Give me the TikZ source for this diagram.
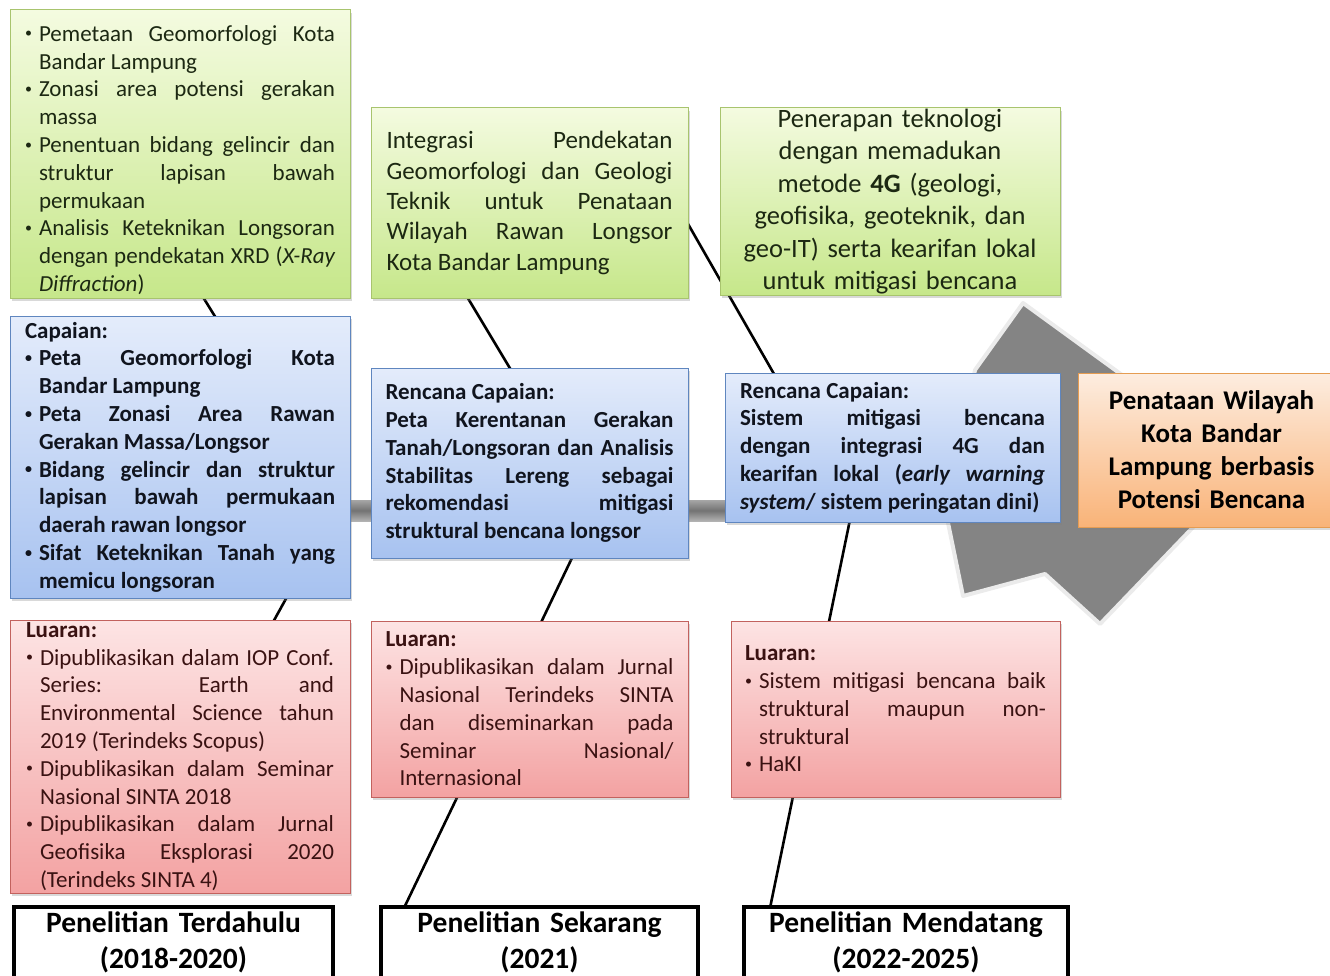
\documentclass[tikz,border=0pt]{standalone}
\usepackage{fontspec}
\setmainfont{Carlito}
\usetikzlibrary{shadows,calc}

\definecolor{greentop}{HTML}{F4FBE0}
\definecolor{greenbot}{HTML}{C6E78A}
\definecolor{greenline}{HTML}{A8C46E}
\definecolor{greentext}{HTML}{1C2812}
\definecolor{bluetop}{HTML}{E4ECFB}
\definecolor{bluebot}{HTML}{A7C2F0}
\definecolor{blueline}{HTML}{5F86BF}
\definecolor{bluetext}{HTML}{10141E}
\definecolor{pinktop}{HTML}{FDE4E4}
\definecolor{pinkbot}{HTML}{F3A2A2}
\definecolor{pinkline}{HTML}{C2625E}
\definecolor{pinktext}{HTML}{3A1212}
\definecolor{orangetop}{HTML}{FDEDE0}
\definecolor{orangebot}{HTML}{F9B378}
\definecolor{orangeline}{HTML}{E59C52}
\definecolor{spinegrey}{HTML}{848484}

\setlength{\parindent}{0pt}
\newcommand{\bitem}[1]{\par\hangindent=14pt\hangafter=1\noindent
  \makebox[14pt][l]{\raisebox{0.3ex}{\fontsize{14}{14}\selectfont\textbullet}}#1}

\begin{document}
\begin{tikzpicture}[x=1pt, y=-1pt,
    % Define styles for the fishbone boxes
    box/.style={draw, line width=1pt, rectangle, inner sep=0pt, align=justify,
      drop shadow={shadow xshift=2pt, shadow yshift=-3pt, opacity=0.3}},
    plan/.style={box, draw=greenline, top color=greentop, bottom color=greenbot, text=greentext,
      font=\fontsize{23}{27.8}\selectfont},
    hasil/.style={box, draw=blueline, top color=bluetop, bottom color=bluebot, text=bluetext,
      font=\bfseries\fontsize{23}{27.8}\selectfont},
    luaran/.style={box, draw=pinkline, top color=pinktop, bottom color=pinkbot, text=pinktext,
      font=\fontsize{23}{27.8}\selectfont},
    tujuan/.style={box, draw=orangeline, top color=orangetop, bottom color=orangebot, align=center,
      font=\bfseries\fontsize{27}{33}\selectfont},
    tahap/.style={draw, line width=4pt, fill=white, inner xsep=0pt, inner ysep=5pt, align=center,
      font=\bfseries\fontsize{29.5}{36}\selectfont},
    rib/.style={line width=2.6pt, black}
  ]
  \useasboundingbox (0,0) rectangle (1330,976);
  \clip (0,0) rectangle (1330,976);

  % --- SPINE & ARROW HEAD ---
  \draw[line width=4pt, black!8, line join=round, fill=spinegrey]
    (1023,303) -- (1250,468) -- (1100,624) -- (1045,574) -- (963,596)
    -- (946,513) -- (975,370) -- cycle;
  \shade[top color=black!35, bottom color=black!30, middle color=black!55]
    (20,500) rectangle (1000,521);

  % --- RIBS ---
  \coordinate (j1) at (335,510);
  \coordinate (t1) at (180,260);
  \coordinate (b1) at (230,700);
  \coordinate (j2) at (595,510);
  \coordinate (t2) at (433,240);
  \coordinate (b2) at (404,908);
  \coordinate (j3) at (852,510);
  \coordinate (t3) at (680,210);
  \coordinate (b3) at (770,908);
  \draw[rib] (t1) -- (j1) -- (b1);
  \draw[rib] (t2) -- (j2) -- (b2);
  \draw[rib] (t3) -- (j3) -- (b3);

  % --- PENELITIAN TERDAHULU ---
  \node[plan, minimum width=340pt, minimum height=288pt, text width=310pt] (plan1) at (180,154) {%
    \bitem{Pemetaan Geomorfologi Kota\linebreak Bandar Lampung}
    \bitem{Zonasi area potensi gerakan\linebreak massa}
    \bitem{Penentuan bidang gelincir dan\linebreak struktur lapisan bawah\linebreak permukaan}
    \bitem{Analisis Keteknikan Longsoran\linebreak dengan pendekatan XRD (\textit{X-Ray\linebreak Diffraction})}\par};
  \node[hasil, minimum width=340pt, minimum height=282pt, text width=310pt] (hasil1) at (180,457) {%
    Capaian:
    \bitem{Peta Geomorfologi Kota\linebreak Bandar Lampung}
    \bitem{Peta Zonasi Area Rawan\linebreak Gerakan Massa/Longsor}
    \bitem{Bidang gelincir dan struktur\linebreak lapisan bawah permukaan\linebreak daerah rawan longsor}
    \bitem{Sifat Keteknikan Tanah yang\linebreak memicu longsoran}\par};
  \node[luaran, minimum width=340pt, minimum height=273pt, text width=308pt] (luaran1) at (180,756.5) {%
    \textbf{Luaran:}
    \bitem{Dipublikasikan dalam IOP Conf.\linebreak Series: Earth and\linebreak Environmental Science tahun\linebreak 2019 (Terindeks Scopus)}
    \bitem{Dipublikasikan dalam Seminar\linebreak Nasional SINTA 2018}
    \bitem{Dipublikasikan dalam Jurnal\linebreak Geofisika Eksplorasi 2020\linebreak (Terindeks SINTA 4)}\par};

  % --- PENELITIAN SEKARANG ---
  \node[plan, minimum width=317pt, minimum height=190pt, text width=286pt,
    font=\fontsize{25}{30.3}\selectfont] (plan2) at (529.5,203) {%
    Integrasi Pendekatan\linebreak Geomorfologi dan Geologi\linebreak Teknik untuk Penataan\linebreak
    Wilayah Rawan Longsor\linebreak Kota Bandar Lampung\par};
  \node[hasil, minimum width=317pt, minimum height=190pt, text width=288pt] (hasil2) at (529.5,463) {%
    Rencana Capaian:\par
    Peta Kerentanan Gerakan\linebreak Tanah/Longsoran dan Analisis\linebreak Stabilitas Lereng sebagai\linebreak
    rekomendasi mitigasi\linebreak struktural bencana longsor\par};
  \node[luaran, minimum width=317pt, minimum height=176pt, text width=288pt] (luaran2) at (529.5,709) {%
    \textbf{Luaran:}
    \bitem{Dipublikasikan dalam Jurnal\linebreak Nasional Terindeks SINTA\linebreak dan diseminarkan pada\linebreak
    Seminar Nasional/\linebreak Internasional}\par};

  % --- PENELITIAN MENDATANG ---
  \node[plan, align=center, minimum width=340pt, minimum height=187pt, text width=330pt,
    font=\fontsize{26.5}{32.4}\selectfont] (plan3) at (890,201.5) {%
    Penerapan teknologi\\ dengan memadukan\\ metode \textbf{4G} (geologi,\\
    geofisika, geoteknik, dan\\ geo-IT) serta kearifan lokal\\ untuk mitigasi bencana};
  \node[hasil, minimum width=335pt, minimum height=149pt, text width=305pt] (hasil3) at (892.5,447.5) {%
    Rencana Capaian:\par
    Sistem mitigasi bencana\linebreak dengan integrasi 4G dan\linebreak
    kearifan lokal (\textit{early warning\linebreak system}/ sistem peringatan dini)\par};
  \node[luaran, minimum width=329pt, minimum height=176pt, text width=301pt] (luaran3) at (895.5,709) {%
    \textbf{Luaran:}
    \bitem{Sistem mitigasi bencana baik\linebreak struktural maupun non-\linebreak struktural}
    \bitem{HaKI}\par};

  % --- TUJUAN ---
  \node[tujuan, minimum width=267pt, minimum height=154pt, text width=260pt] (tujuan) at (1211.5,450) {%
    Penataan Wilayah\\ Kota Bandar\\ Lampung berbasis\\ Potensi Bencana};

  % --- TAHAP PENELITIAN ---
  \node[tahap, anchor=north, minimum width=319pt, text width=310pt] (tahap1) at (173.5,905)
    {Penelitian Terdahulu\\ (2018-2020)\\ \mbox{}};
  \node[tahap, anchor=north, minimum width=317pt, text width=310pt] (tahap2) at (539.5,905)
    {Penelitian Sekarang\\ (2021)\\ \mbox{}};
  \node[tahap, anchor=north, minimum width=324pt, text width=310pt] (tahap3) at (906,905)
    {Penelitian Mendatang\\ (2022-2025)\\ \mbox{}};

\end{tikzpicture}
\end{document}
